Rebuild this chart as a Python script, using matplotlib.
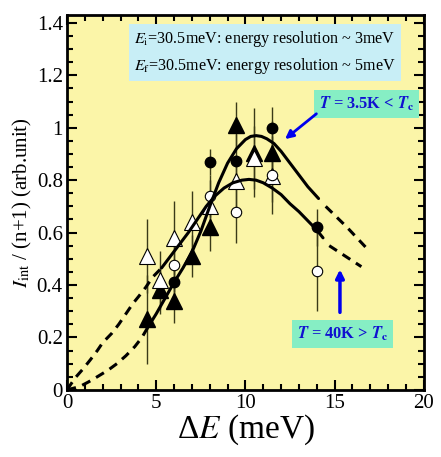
import numpy as np
import matplotlib
matplotlib.use('Agg')
import matplotlib.pyplot as plt
from matplotlib.ticker import MultipleLocator

plt.rcParams['font.family'] = ['Liberation Serif', 'DejaVu Serif']
plt.rcParams['mathtext.fontset'] = 'stix'

# --------------------------
# Data
# --------------------------
# filled triangles
ftri_x = [4.5, 5.2, 6.0, 7.0, 8.0, 9.5, 10.5, 11.5]
ftri_y = [0.27, 0.38, 0.34, 0.51, 0.62, 1.01, 0.905, 0.905]
ftri_err = [0.17, 0.09, 0.085, 0.08, 0.09, 0.09, 0.17, 0.12]
# filled circles
fcir_x = [6.0, 8.0, 9.5, 11.5, 14.0]
fcir_y = [0.41, 0.87, 0.875, 1.0, 0.62]
fcir_err = [0.08, 0.05, 0.1, 0.08, 0.07]
# open triangles
otri_x = [4.5, 5.2, 6.0, 7.0, 8.0, 9.5, 10.5, 11.5]
otri_y = [0.51, 0.42, 0.58, 0.64, 0.70, 0.795, 0.885, 0.815]
otri_err = [0.14, 0.11, 0.14, 0.12, 0.1, 0.1, 0.12, 0.1]
# open circles
ocir_x = [6.0, 8.0, 9.5, 11.5, 14.0]
ocir_y = [0.475, 0.74, 0.68, 0.82, 0.455]
ocir_err = [0.1, 0.08, 0.12, 0.15, 0.155]

# fit curve T = 3.5K (dashed / solid / dashed)
lowT_x_lo = [0.0, 0.7, 1.2, 1.7, 2.3, 2.8, 3.3, 3.8, 4.2, 4.5]
lowT_y_lo = [0.0, 0.012, 0.03, 0.05, 0.075, 0.1, 0.13, 0.165, 0.2, 0.235]
lowT_x = [4.5, 5.0, 5.5, 6.0, 6.5, 7.0, 7.5, 8.0, 8.5, 9.0, 9.5, 10.0, 10.3, 10.6,
          10.9, 11.2, 11.6, 12.0, 12.5, 13.0, 13.5, 14.1]
lowT_y = [0.235, 0.29, 0.35, 0.41, 0.465, 0.525, 0.605, 0.70, 0.79, 0.865, 0.92, 0.955, 0.967, 0.97,
          0.967, 0.958, 0.94, 0.91, 0.865, 0.82, 0.775, 0.73]
lowT_x_hi = [14.5, 15.7, 16.8]
lowT_y_hi = [0.70, 0.62, 0.54]

# fit curve T = 40K
highT_x_lo = [0.0, 0.45, 0.9, 1.3, 1.7, 2.0, 2.5, 2.9, 3.3, 3.7, 4.0, 4.4, 4.8, 5.3]
highT_y_lo = [0.0, 0.045, 0.08, 0.114, 0.15, 0.18, 0.215, 0.25, 0.29, 0.33, 0.355, 0.39, 0.43, 0.465]
highT_x = [5.3, 5.8, 6.3, 6.8, 7.3, 7.8, 8.3, 8.8, 9.3, 9.8, 10.2, 10.6, 11.0, 11.5,
           12.0, 12.5, 13.0, 13.5, 14.0, 14.35]
highT_y = [0.465, 0.51, 0.555, 0.60, 0.65, 0.70, 0.74, 0.77, 0.79, 0.80, 0.803, 0.80, 0.79, 0.77,
           0.745, 0.71, 0.68, 0.645, 0.61, 0.58]
highT_x_hi = [14.7, 15.6, 16.5]
highT_y_hi = [0.55, 0.51, 0.47]

# --------------------------
# Plot
# --------------------------
fig = plt.figure(figsize=(4.41, 4.57), dpi=100)
ax = fig.add_axes([0.152, 0.147, 0.809, 0.82])
ax.set_facecolor('#fbf5a8')

errc = '#3a3a18'
ax.errorbar(ftri_x, ftri_y, yerr=ftri_err, fmt='none', ecolor=errc, elinewidth=1.0, zorder=2)
ax.errorbar(fcir_x, fcir_y, yerr=fcir_err, fmt='none', ecolor=errc, elinewidth=1.0, zorder=2)
ax.errorbar(otri_x, otri_y, yerr=otri_err, fmt='none', ecolor=errc, elinewidth=1.0, zorder=2)
ax.errorbar(ocir_x, ocir_y, yerr=ocir_err, fmt='none', ecolor=errc, elinewidth=1.0, zorder=2)

ax.plot(ftri_x, ftri_y, '^', ms=11.5, mfc='black', mec='black', zorder=4)
ax.plot(fcir_x, fcir_y, 'o', ms=7.5, mfc='black', mec='black', zorder=4)
ax.plot(otri_x, otri_y, '^', ms=11.5, mfc='white', mec='black', mew=0.8, zorder=4)
ax.plot(ocir_x, ocir_y, 'o', ms=7.5, mfc='white', mec='black', mew=0.8, zorder=4)

dash = (0, (3, 2.2))
for xs, ys, ls in [(lowT_x_lo, lowT_y_lo, dash), (lowT_x, lowT_y, '-'), (lowT_x_hi, lowT_y_hi, dash),
                   (highT_x_lo, highT_y_lo, dash), (highT_x, highT_y, '-'), (highT_x_hi, highT_y_hi, dash)]:
    ax.plot(xs, ys, color='black', lw=2.2, ls=ls, zorder=5, solid_capstyle='round',
            solid_joinstyle='round')

# annotations
ax.text(11.1, 1.286, '$E_\\mathrm{i}$=30.5meV: energy resolution ~ 3meV\n'
        '$E_\\mathrm{f}$=30.5meV: energy resolution ~ 5meV',
        ha='center', va='center', fontsize=11.6, linespacing=1.5,
        bbox=dict(boxstyle='square,pad=0.3', fc='#c8eef6', ec='none'), zorder=6)
ax.text(16.8, 1.09, '$\\mathbfit{T}$ = 3.5K < $\\mathbfit{T}_\\mathbf{c}$', ha='center', va='center',
        fontsize=11.8, fontweight='bold', color='#1010d0',
        bbox=dict(boxstyle='square,pad=0.3', fc='#86eec4', ec='none'), zorder=6)
ax.text(15.46, 0.213, '$\\mathbfit{T}$ = 40K > $\\mathbfit{T}_\\mathbf{c}$', ha='center', va='center',
        fontsize=11.8, fontweight='bold', color='#1010d0',
        bbox=dict(boxstyle='square,pad=0.3', fc='#86eec4', ec='none'), zorder=6)
ax.annotate('', xy=(12.1, 0.95), xytext=(14.1, 1.06),
            arrowprops=dict(arrowstyle='-|>', color='#0000ee', lw=2, mutation_scale=12), zorder=6)
ax.annotate('', xy=(15.3, 0.47), xytext=(15.3, 0.285),
            arrowprops=dict(arrowstyle='-|>', color='#0000ee', lw=2.5, mutation_scale=12), zorder=6)

ax.set_xlim(0, 20)
ax.set_ylim(0, 1.43)
ax.xaxis.set_major_locator(MultipleLocator(5))
ax.xaxis.set_minor_locator(MultipleLocator(1))
ax.yaxis.set_major_locator(MultipleLocator(0.2))
ax.yaxis.set_minor_locator(MultipleLocator(0.05))
ax.set_xticks([0, 5, 10, 15, 20], ['0', '5', '10', '15', '20'])
ax.set_yticks([0, 0.2, 0.4, 0.6, 0.8, 1.0, 1.2, 1.4], ['0', '0.2', '0.4', '0.6', '0.8', '1', '1.2', '1.4'])
ax.tick_params(which='both', direction='in', top=True, right=True, width=1.5, labelsize=15)
ax.tick_params(axis='x', pad=3)
ax.tick_params(axis='y', pad=3)
ax.tick_params(which='major', length=7)
ax.tick_params(which='minor', length=4)
for s in ax.spines.values():
    s.set_linewidth(2)

ax.set_xlabel('Δ$E$ (meV)', fontsize=24, labelpad=0)
ax.set_ylabel('$I_\\mathrm{int}$ / (n+1) (arb.unit)', fontsize=15, labelpad=2)

fig.savefig('out.png', dpi=100)
